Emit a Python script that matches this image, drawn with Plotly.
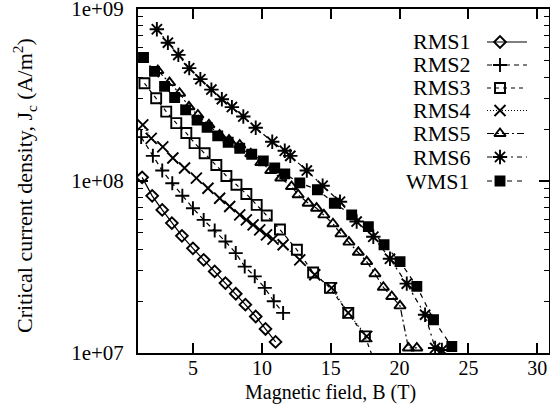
import plotly.graph_objects as go

# ---------------- data ----------------
rms1_B = [1.30, 2.03, 2.76, 3.46, 4.19, 4.99, 5.77, 6.57, 7.35, 8.10, 8.80, 9.55, 10.26, 10.99]
rms1_J = [1.05e8, 8.20e7, 6.79e7, 5.69e7, 4.80e7, 4.06e7, 3.48e7, 2.98e7, 2.55e7, 2.21e7, 1.91e7, 1.63e7, 1.38e7, 1.16e7]

rms2_B = [1.23, 2.08, 2.76, 3.49, 4.22, 4.99, 5.77, 6.57, 7.35, 8.10, 8.75, 9.48, 10.21, 10.86, 11.54]
rms2_J = [1.80e8, 1.40e8, 1.15e8, 9.70e7, 8.20e7, 6.95e7, 5.94e7, 5.15e7, 4.45e7, 3.81e7, 3.18e7, 2.79e7, 2.39e7, 2.00e7, 1.71e7]

rms3_B = [1.47, 2.32, 3.05, 3.78, 4.51, 5.11, 5.84, 6.69, 7.42, 8.15, 8.87, 9.62, 10.35, 11.31, 12.54, 13.72, 14.94, 16.27, 17.48, 18.40]
rms3_J = [3.70e8, 3.03e8, 2.53e8, 2.17e8, 1.90e8, 1.66e8, 1.45e8, 1.24e8, 1.07e8, 9.51e7, 8.41e7, 7.26e7, 6.30e7, 5.22e7, 3.98e7, 2.94e7, 2.39e7, 1.71e7, 1.25e7, 8.0e6]

rms4_B = [1.35, 1.96, 2.80, 3.53, 4.38, 5.24, 6.08, 6.93, 7.66, 8.39, 8.87, 9.36, 9.84, 10.33, 10.81, 11.54, 12.75, 13.84, 15.06, 16.27, 17.61]
rms4_J = [2.12e8, 1.77e8, 1.58e8, 1.36e8, 1.19e8, 1.04e8, 9.08e7, 7.94e7, 7.11e7, 6.35e7, 5.94e7, 5.56e7, 5.20e7, 4.86e7, 4.59e7, 4.26e7, 3.48e7, 2.85e7, 2.39e7, 1.71e7, 1.25e7]

rms5_B = [2.44, 3.29, 4.02, 4.70, 5.35, 6.15, 6.93, 7.61, 8.39, 9.19, 9.92, 10.64, 11.37, 12.15, 12.63, 13.36, 13.97, 14.50, 15.16, 15.74, 16.32, 17.00, 17.61, 18.21, 18.82, 19.43, 20.03, 20.64, 21.25]
rms5_J = [4.39e8, 3.73e8, 3.24e8, 2.70e8, 2.42e8, 2.12e8, 1.85e8, 1.73e8, 1.62e8, 1.44e8, 1.28e8, 1.15e8, 1.04e8, 9.29e7, 8.32e7, 7.43e7, 6.95e7, 6.35e7, 5.64e7, 4.93e7, 4.41e7, 3.85e7, 3.40e7, 2.89e7, 2.41e7, 2.13e7, 1.88e7, 1.07e7, 1.07e7]

rms6_B = [2.37, 3.17, 3.93, 4.72, 5.53, 6.33, 7.09, 7.82, 8.65, 9.55, 10.75, 11.66, 12.06, 13.26, 14.41, 15.67, 16.88, 18.09, 19.30, 20.52, 21.85, 22.58, 23.07]
rms6_J = [7.62e8, 6.37e8, 5.41e8, 4.53e8, 3.91e8, 3.40e8, 2.99e8, 2.69e8, 2.37e8, 2.04e8, 1.69e8, 1.50e8, 1.40e8, 1.15e8, 9.38e7, 7.57e7, 5.81e7, 4.74e7, 3.53e7, 2.53e7, 1.67e7, 1.07e7, 1.04e7]

wms1_B = [1.40, 2.20, 2.93, 3.66, 4.46, 5.29, 6.02, 6.79, 7.55, 8.39, 9.26, 10.10, 10.93, 11.66, 12.75, 14.03, 15.26, 16.52, 17.73, 18.87, 20.03, 21.25, 22.46, 23.79]
wms1_J = [5.22e8, 4.34e8, 3.55e8, 3.06e8, 2.59e8, 2.26e8, 2.05e8, 1.83e8, 1.68e8, 1.55e8, 1.43e8, 1.31e8, 1.19e8, 1.10e8, 9.75e7, 8.89e7, 7.43e7, 6.35e7, 5.43e7, 4.26e7, 3.40e7, 2.44e7, 1.56e7, 1.09e7]

series_names = ["RMS1", "RMS2", "RMS3", "RMS4", "RMS5", "RMS6", "WMS1"]
x_tick_vals = [5, 10, 15, 20, 25, 30]
y_tick_vals = [1e7, 1e8, 1e9]
y_tick_text = ["1e+07", "1e+08", "1e+09"]

# ---------------- styles ----------------
FONT = "Liberation Serif"
styles = {
    "RMS1": dict(symbol="diamond-open", size=9, dash="solid"),
    "RMS2": dict(symbol="cross-thin-open", size=10, dash="5px,4px"),
    "RMS3": dict(symbol="square-open", size=10, dash="4px,4px"),
    "RMS4": dict(symbol="x-thin-open", size=11, dash="1px,2px"),
    "RMS5": dict(symbol="triangle-up-open", size=10, dash="7px,3px,2px,3px"),
    "RMS6": dict(symbol="asterisk-open", size=12, dash="5px,4px,2px,4px"),
    "WMS1": dict(symbol="square", size=9, dash="5px,5px"),
}
data = {
    "RMS1": (rms1_B, rms1_J), "RMS2": (rms2_B, rms2_J), "RMS3": (rms3_B, rms3_J),
    "RMS4": (rms4_B, rms4_J), "RMS5": (rms5_B, rms5_J), "RMS6": (rms6_B, rms6_J),
    "WMS1": (wms1_B, wms1_J),
}

fig = go.Figure()
for name in series_names:
    bx, jy = data[name]
    st = styles[name]
    fig.add_trace(go.Scatter(
        x=bx, y=jy, mode="lines+markers", name=name, showlegend=False,
        line=dict(color="black", width=1.2, dash=st["dash"]),
        marker=dict(symbol=st["symbol"], size=st["size"], color="black",
                    line=dict(color="black", width=1.9)),
    ))

# ---------------- manual gnuplot-style key (pixel overlay axes) ----------------
L, R, T, B = 138, 549, 9, 353


def px2paper_x(px):
    return (px - L) / (R - L)


def px2paper_y(py):
    return (B - py) / (B - T)


key_rows = [42, 65, 88, 110.5, 133.5, 157, 181]
for i, name in enumerate(series_names):
    st = styles[name]
    yrow = key_rows[i]
    fig.add_trace(go.Scatter(
        x=[487, 527], y=[yrow, yrow], xaxis="x2", yaxis="y2", mode="lines",
        showlegend=False, hoverinfo="skip",
        line=dict(color="black", width=1.2, dash=st["dash"]),
    ))
    fig.add_trace(go.Scatter(
        x=[500], y=[yrow], xaxis="x2", yaxis="y2", mode="markers",
        showlegend=False, hoverinfo="skip",
        marker=dict(symbol=st["symbol"], size=st["size"], color="black",
                    line=dict(color="black", width=1.9)),
    ))
    fig.add_annotation(x=px2paper_x(472), y=px2paper_y(yrow), xref="paper", yref="paper",
                       text=name, showarrow=False, xanchor="right", yanchor="middle",
                       font=dict(family=FONT, size=22, color="black"))

# axis titles
fig.add_annotation(x=px2paper_x(330), y=px2paper_y(392), xref="paper", yref="paper",
                   text="Magnetic field, B (T)", showarrow=False,
                   xanchor="center", yanchor="middle",
                   font=dict(family=FONT, size=20, color="black"))
fig.add_annotation(x=px2paper_x(24), y=px2paper_y(186), xref="paper", yref="paper",
                   text="Critical current density, J<sub>c</sub> (A/m<sup>2</sup>)",
                   showarrow=False, textangle=-90,
                   xanchor="center", yanchor="middle",
                   font=dict(family=FONT, size=22, color="black"))

fig.update_layout(
    width=550, height=415,
    margin=dict(l=L, r=550 - R, t=T, b=415 - B),
    paper_bgcolor="white", plot_bgcolor="white",
    font=dict(family=FONT, size=21, color="black"),
    showlegend=False,
    xaxis=dict(
        range=[1, 30.85], tickvals=x_tick_vals, ticks="inside", ticklen=10,
        tickwidth=1.5, tickcolor="black", showline=True, linecolor="black",
        linewidth=2, mirror="ticks", showgrid=False, zeroline=False,
        tickfont=dict(family=FONT, size=20), ticklabelstandoff=-4,
        ticklabeloverflow="allow", automargin=False,
    ),
    yaxis=dict(
        type="log", range=[7, 9], tickvals=y_tick_vals, ticktext=y_tick_text,
        ticks="inside", ticklen=10, tickwidth=1.5, tickcolor="black",
        showline=True, linecolor="black", linewidth=2, mirror="ticks",
        showgrid=False, zeroline=False,
        tickfont=dict(family=FONT, size=21), ticklabelstandoff=8,
        ticklabeloverflow="allow",
        minor=dict(ticks="inside", ticklen=5, tickwidth=1.2, tickcolor="black",
                   dtick="D1", showgrid=False),
        automargin=False,
    ),
    xaxis2=dict(range=[L, R], overlaying="x", visible=False, fixedrange=True),
    yaxis2=dict(range=[B, T], overlaying="y", visible=False, fixedrange=True),
)

fig.write_html("out.html", config={"displayModeBar": False},
               post_script="document.body.style.margin='0';document.body.style.overflow='hidden';")
